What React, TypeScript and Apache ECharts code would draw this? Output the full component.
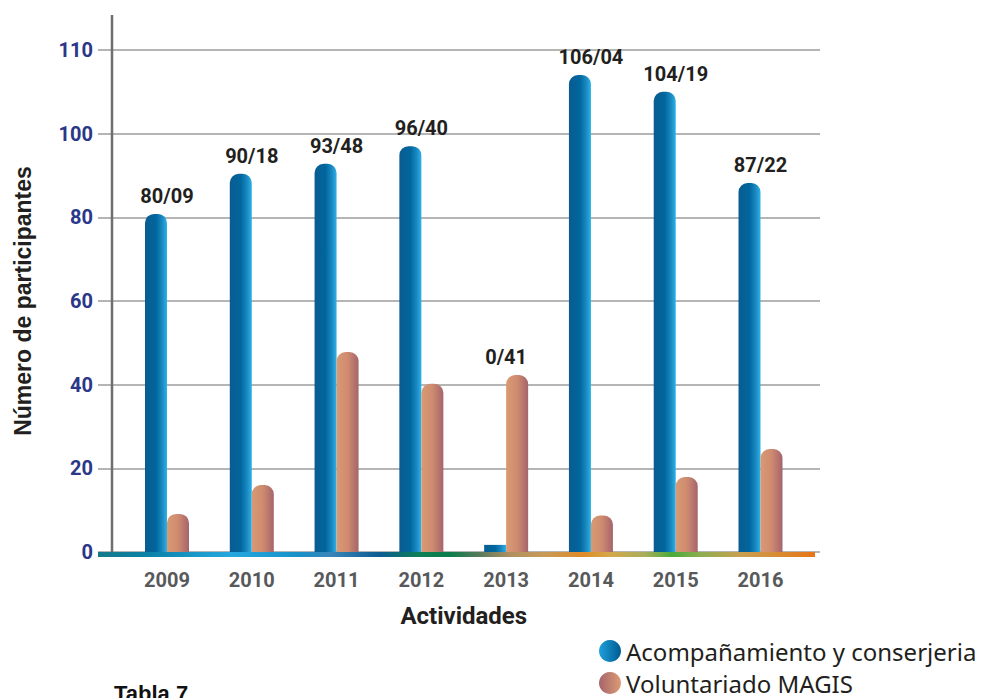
import React, { useEffect, useRef } from "react";
import * as echarts from "echarts";

const categories = ["2009", "2010", "2011", "2012", "2013", "2014", "2015", "2016"];
const acompanamiento = [80.8, 90.4, 92.8, 97, 1.7, 114, 110, 88.2];
const voluntariado = [9.1, 16, 47.8, 40.2, 42.3, 8.7, 17.9, 24.6];
const barLabels = ["80/09", "90/18", "93/48", "96/40", "0/41", "106/04", "104/19", "87/22"];
const yTickLabels = ["0", "20", "40", "60", "80", "100", "110"];
const seriesNames = ["Acompañamiento y conserjeria", "Voluntariado MAGIS"];

const W = 982;
const H = 698;
const PLOT_TOP = 50;
const PLOT_BOTTOM = 552;
const AXIS_X = 112;
const GRID_RIGHT_X = 820;
const BAR_LEFT = 124.6;
const BAR_RIGHT = 802.9;
const BAR_W = 22;

const lg = (stops: [number, string][]) =>
  new echarts.graphic.LinearGradient(
    0, 0, 1, 0,
    stops.map(([offset, color]) => ({ offset, color }))
  );

const blueBar = () => lg([[0, "#0a5c90"], [0.5, "#00669e"], [0.78, "#1a88c0"], [1, "#2cb2e8"]]);
const orangeBar = () => lg([[0, "#d99a72"], [0.5, "#cf8b70"], [1, "#a5646b"]]);

const baseStops: [number, string][] = [
  [98, "#13798a"], [150, "#0b82a8"], [230, "#25a8df"], [300, "#1890c8"], [330, "#3a86b8"],
  [380, "#0b5c92"], [420, "#0c7f55"], [450, "#0a7c4c"], [480, "#5a7a5c"], [510, "#b09060"],
  [545, "#c89a58"], [582, "#e08a28"], [610, "#d4a848"], [645, "#a8ae5c"], [672, "#4aaa3c"],
  [700, "#8cae50"], [740, "#c8a050"], [815, "#e87518"],
];

export default function App() {
  const ref = useRef<HTMLDivElement>(null);
  useEffect(() => {
    document.body.style.margin = "0";
    if (!ref.current) return;
    const chart = echarts.init(ref.current, null, { renderer: "svg" });

    const labelStyle = {
      position: "top",
      distance: 8,
      fontFamily: "Roboto",
      fontWeight: "bold",
      fontSize: 20,
      color: "#231f20",
    };

    const blueData = acompanamiento.map((v, i) => ({
      value: v,
      itemStyle: v < 5 ? { borderRadius: 0 } : undefined,
      label: {
        show: v >= voluntariado[i],
        formatter: barLabels[i],
        offset: [BAR_W / 2, 0],
        ...labelStyle,
      },
    }));
    const orangeData = voluntariado.map((v, i) => ({
      value: v,
      label: {
        show: v > acompanamiento[i],
        formatter: barLabels[i],
        offset: [-BAR_W / 2, 0],
        ...labelStyle,
      },
    }));

    const baseX0 = baseStops[0][0];
    const baseX1 = baseStops[baseStops.length - 1][0];

    chart.setOption({
      animation: false,
      grid: [
        { left: BAR_LEFT, right: W - BAR_RIGHT, top: PLOT_TOP, bottom: H - PLOT_BOTTOM },
        { left: AXIS_X, right: W - GRID_RIGHT_X, top: PLOT_TOP, bottom: H - PLOT_BOTTOM },
      ],
      xAxis: [
        {
          gridIndex: 0,
          type: "category",
          data: categories,
          axisLine: { show: false },
          axisTick: { show: false },
          axisLabel: {
            margin: 18,
            fontFamily: "Roboto",
            fontWeight: "bold",
            fontSize: 20,
            color: "#58595b",
          },
          name: "Actividades",
          nameLocation: "middle",
          nameGap: 52,
          nameTextStyle: {
            fontFamily: "Roboto",
            fontWeight: "bold",
            fontSize: 24,
            color: "#231f20",
          },
        },
        { gridIndex: 1, type: "category", data: categories, show: false },
      ],
      yAxis: [
        { gridIndex: 0, type: "value", min: 0, max: 120, interval: 20, show: false },
        {
          gridIndex: 1,
          type: "value",
          min: 0,
          max: 120,
          interval: 20,
          axisLine: { show: false },
          axisTick: { show: true, length: 14, lineStyle: { color: "#9d9d9d", width: 1.5 } },
          splitLine: { show: true, lineStyle: { color: "#9d9d9d", width: 1.5 } },
          axisLabel: {
            margin: 19,
            fontFamily: "Roboto",
            fontWeight: "bold",
            fontSize: 20,
            color: "#2b3788",
            formatter: (v: number) => yTickLabels[Math.round(v / 20)] ?? "",
          },
          name: "Número de participantes",
          nameLocation: "middle",
          nameGap: 78,
          nameRotate: 90,
          nameTextStyle: {
            fontFamily: "Liberation Sans",
            fontWeight: "bold",
            fontSize: 23,
            color: "#231f20",
          },
        },
      ],
      legend: {
        orient: "vertical",
        left: 599,
        top: 639,
        width: 383,
        height: 70,
        padding: 0,
        icon: "circle",
        itemWidth: 22,
        itemHeight: 22,
        itemGap: 8,
        textStyle: { fontFamily: "Noto Sans", fontSize: 24, lineHeight: 24, color: "#231f20" },
        data: [
          { name: seriesNames[0], itemStyle: { color: lg([[0, "#1fa0da"], [1, "#005a92"]]) } },
          { name: seriesNames[1], itemStyle: { color: lg([[0, "#a5646b"], [1, "#dc9c74"]]) } },
        ],
      },
      series: [
        {
          name: seriesNames[0],
          type: "bar",
          xAxisIndex: 0,
          yAxisIndex: 0,
          barWidth: BAR_W,
          barGap: "0%",
          itemStyle: { color: blueBar(), borderRadius: [9, 9, 0, 0] },
          data: blueData,
        },
        {
          name: seriesNames[1],
          type: "bar",
          xAxisIndex: 0,
          yAxisIndex: 0,
          barWidth: BAR_W,
          barGap: "0%",
          itemStyle: { color: orangeBar(), borderRadius: [9, 9, 0, 0] },
          data: orangeData,
        },
      ],
      graphic: [
        {
          type: "line",
          z: 10,
          shape: { x1: AXIS_X, y1: 15, x2: AXIS_X, y2: PLOT_BOTTOM },
          style: { stroke: "#6d6e71", lineWidth: 2.5 },
        },
        {
          type: "rect",
          z: 11,
          shape: { x: baseX0, y: PLOT_BOTTOM, width: baseX1 - baseX0, height: 5 },
          style: {
            fill: lg(baseStops.map(([x, c]) => [(x - baseX0) / (baseX1 - baseX0), c] as [number, string])),
          },
        },
        {
          type: "text",
          left: 114,
          top: 682,
          style: {
            text: "Tabla 7",
            font: "bold 22px 'Liberation Sans'",
            fill: "#111111",
          },
        },
      ],
    });
    return () => chart.dispose();
  }, []);
  return <div ref={ref} style={{ width: W, height: H }} />;
}
